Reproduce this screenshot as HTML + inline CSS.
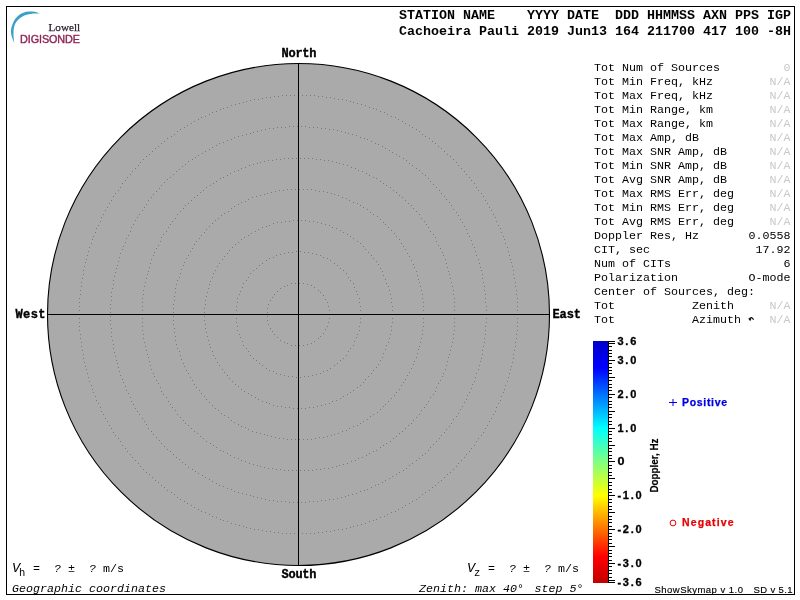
<!DOCTYPE html>
<html><head><meta charset="utf-8"><style>
html,body{margin:0;padding:0;background:#fff;width:800px;height:600px;overflow:hidden}
svg{display:block;will-change:transform}
.m{font-family:"Liberation Mono",monospace}
.s{font-family:"Liberation Sans",sans-serif}
</style></head><body>
<svg width="800" height="600" viewBox="0 0 800 600">
<rect x="6.5" y="6.5" width="788" height="588" fill="#fff" stroke="#000" stroke-width="1"/>

<circle cx="298.5" cy="314.5" r="251" fill="#aaaaaa" stroke="#000" stroke-width="1.1"/>
<path d="M329 314h1v1h-1zM329 318h1v1h-1zM328 322h1v1h-1zM327 326h1v1h-1zM325 329h1v1h-1zM323 333h1v1h-1zM320 336h1v1h-1zM318 338h1v1h-1zM314 341h1v1h-1zM311 343h1v1h-1zM307 344h1v1h-1zM303 345h1v1h-1zM299 345h1v1h-1zM295 345h1v1h-1zM291 345h1v1h-1zM287 343h1v1h-1zM284 342h1v1h-1zM280 340h1v1h-1zM277 337h1v1h-1zM274 334h1v1h-1zM272 331h1v1h-1zM270 328h1v1h-1zM268 324h1v1h-1zM267 320h1v1h-1zM267 316h1v1h-1zM267 312h1v1h-1zM267 308h1v1h-1zM268 304h1v1h-1zM270 300h1v1h-1zM272 297h1v1h-1zM274 294h1v1h-1zM277 291h1v1h-1zM280 288h1v1h-1zM284 286h1v1h-1zM287 285h1v1h-1zM291 283h1v1h-1zM295 283h1v1h-1zM299 283h1v1h-1zM303 283h1v1h-1zM307 284h1v1h-1zM311 285h1v1h-1zM314 287h1v1h-1zM318 290h1v1h-1zM320 292h1v1h-1zM323 295h1v1h-1zM325 299h1v1h-1zM327 302h1v1h-1zM328 306h1v1h-1zM329 310h1v1h-1zM361 314h1v1h-1zM360 318h1v1h-1zM360 322h1v1h-1zM359 326h1v1h-1zM359 330h1v1h-1zM357 334h1v1h-1zM356 337h1v1h-1zM354 341h1v1h-1zM353 345h1v1h-1zM350 348h1v1h-1zM348 351h1v1h-1zM346 355h1v1h-1zM343 358h1v1h-1zM340 360h1v1h-1zM337 363h1v1h-1zM334 365h1v1h-1zM330 368h1v1h-1zM327 370h1v1h-1zM323 371h1v1h-1zM320 373h1v1h-1zM316 374h1v1h-1zM312 375h1v1h-1zM308 376h1v1h-1zM304 376h1v1h-1zM300 377h1v1h-1zM296 377h1v1h-1zM292 376h1v1h-1zM288 376h1v1h-1zM284 375h1v1h-1zM280 374h1v1h-1zM276 373h1v1h-1zM273 371h1v1h-1zM269 370h1v1h-1zM266 368h1v1h-1zM262 365h1v1h-1zM259 363h1v1h-1zM256 360h1v1h-1zM253 358h1v1h-1zM250 355h1v1h-1zM248 351h1v1h-1zM246 348h1v1h-1zM243 345h1v1h-1zM242 341h1v1h-1zM240 337h1v1h-1zM239 334h1v1h-1zM237 330h1v1h-1zM237 326h1v1h-1zM236 322h1v1h-1zM236 318h1v1h-1zM235 314h1v1h-1zM236 310h1v1h-1zM236 306h1v1h-1zM237 302h1v1h-1zM237 298h1v1h-1zM239 294h1v1h-1zM240 291h1v1h-1zM242 287h1v1h-1zM243 283h1v1h-1zM246 280h1v1h-1zM248 277h1v1h-1zM250 273h1v1h-1zM253 270h1v1h-1zM256 268h1v1h-1zM259 265h1v1h-1zM262 263h1v1h-1zM266 260h1v1h-1zM269 258h1v1h-1zM273 257h1v1h-1zM276 255h1v1h-1zM280 254h1v1h-1zM284 253h1v1h-1zM288 252h1v1h-1zM292 252h1v1h-1zM296 251h1v1h-1zM300 251h1v1h-1zM304 252h1v1h-1zM308 252h1v1h-1zM312 253h1v1h-1zM316 254h1v1h-1zM320 255h1v1h-1zM323 257h1v1h-1zM327 258h1v1h-1zM330 260h1v1h-1zM334 263h1v1h-1zM337 265h1v1h-1zM340 268h1v1h-1zM343 270h1v1h-1zM346 273h1v1h-1zM348 277h1v1h-1zM350 280h1v1h-1zM353 283h1v1h-1zM354 287h1v1h-1zM356 291h1v1h-1zM357 294h1v1h-1zM359 298h1v1h-1zM359 302h1v1h-1zM360 306h1v1h-1zM360 310h1v1h-1zM392 314h1v1h-1zM392 318h1v1h-1zM392 322h1v1h-1zM391 326h1v1h-1zM391 330h1v1h-1zM390 334h1v1h-1zM389 338h1v1h-1zM388 342h1v1h-1zM386 345h1v1h-1zM385 349h1v1h-1zM383 353h1v1h-1zM382 357h1v1h-1zM380 360h1v1h-1zM378 364h1v1h-1zM376 367h1v1h-1zM373 370h1v1h-1zM371 373h1v1h-1zM368 376h1v1h-1zM365 379h1v1h-1zM363 382h1v1h-1zM360 385h1v1h-1zM357 387h1v1h-1zM353 390h1v1h-1zM350 392h1v1h-1zM347 394h1v1h-1zM343 396h1v1h-1zM340 398h1v1h-1zM336 400h1v1h-1zM332 401h1v1h-1zM329 403h1v1h-1zM325 404h1v1h-1zM321 405h1v1h-1zM317 406h1v1h-1zM313 407h1v1h-1zM309 407h1v1h-1zM305 408h1v1h-1zM301 408h1v1h-1zM297 408h1v1h-1zM293 408h1v1h-1zM289 407h1v1h-1zM285 407h1v1h-1zM281 406h1v1h-1zM277 406h1v1h-1zM273 405h1v1h-1zM269 403h1v1h-1zM266 402h1v1h-1zM262 401h1v1h-1zM258 399h1v1h-1zM255 397h1v1h-1zM251 395h1v1h-1zM248 393h1v1h-1zM244 391h1v1h-1zM241 389h1v1h-1zM238 386h1v1h-1zM235 384h1v1h-1zM232 381h1v1h-1zM229 378h1v1h-1zM227 375h1v1h-1zM224 372h1v1h-1zM222 369h1v1h-1zM219 365h1v1h-1zM217 362h1v1h-1zM215 358h1v1h-1zM213 355h1v1h-1zM212 351h1v1h-1zM210 347h1v1h-1zM209 344h1v1h-1zM208 340h1v1h-1zM207 336h1v1h-1zM206 332h1v1h-1zM205 328h1v1h-1zM205 324h1v1h-1zM204 320h1v1h-1zM204 316h1v1h-1zM204 312h1v1h-1zM204 308h1v1h-1zM205 304h1v1h-1zM205 300h1v1h-1zM206 296h1v1h-1zM207 292h1v1h-1zM208 288h1v1h-1zM209 284h1v1h-1zM210 281h1v1h-1zM212 277h1v1h-1zM213 273h1v1h-1zM215 270h1v1h-1zM217 266h1v1h-1zM219 263h1v1h-1zM222 259h1v1h-1zM224 256h1v1h-1zM227 253h1v1h-1zM229 250h1v1h-1zM232 247h1v1h-1zM235 244h1v1h-1zM238 242h1v1h-1zM241 239h1v1h-1zM244 237h1v1h-1zM248 235h1v1h-1zM251 233h1v1h-1zM255 231h1v1h-1zM258 229h1v1h-1zM262 227h1v1h-1zM266 226h1v1h-1zM269 225h1v1h-1zM273 223h1v1h-1zM277 222h1v1h-1zM281 222h1v1h-1zM285 221h1v1h-1zM289 221h1v1h-1zM293 220h1v1h-1zM297 220h1v1h-1zM301 220h1v1h-1zM305 220h1v1h-1zM309 221h1v1h-1zM313 221h1v1h-1zM317 222h1v1h-1zM321 223h1v1h-1zM325 224h1v1h-1zM329 225h1v1h-1zM332 227h1v1h-1zM336 228h1v1h-1zM340 230h1v1h-1zM343 232h1v1h-1zM347 234h1v1h-1zM350 236h1v1h-1zM353 238h1v1h-1zM357 241h1v1h-1zM360 243h1v1h-1zM363 246h1v1h-1zM365 249h1v1h-1zM368 252h1v1h-1zM371 255h1v1h-1zM373 258h1v1h-1zM376 261h1v1h-1zM378 264h1v1h-1zM380 268h1v1h-1zM382 271h1v1h-1zM383 275h1v1h-1zM385 279h1v1h-1zM386 283h1v1h-1zM388 286h1v1h-1zM389 290h1v1h-1zM390 294h1v1h-1zM391 298h1v1h-1zM391 302h1v1h-1zM392 306h1v1h-1zM392 310h1v1h-1zM423 314h1v1h-1zM423 318h1v1h-1zM423 322h1v1h-1zM423 326h1v1h-1zM422 330h1v1h-1zM422 334h1v1h-1zM421 338h1v1h-1zM420 342h1v1h-1zM419 346h1v1h-1zM418 349h1v1h-1zM417 353h1v1h-1zM416 357h1v1h-1zM414 361h1v1h-1zM413 364h1v1h-1zM411 368h1v1h-1zM409 372h1v1h-1zM407 375h1v1h-1zM405 379h1v1h-1zM403 382h1v1h-1zM401 385h1v1h-1zM399 389h1v1h-1zM396 392h1v1h-1zM394 395h1v1h-1zM391 398h1v1h-1zM388 401h1v1h-1zM385 404h1v1h-1zM383 406h1v1h-1zM380 409h1v1h-1zM377 412h1v1h-1zM373 414h1v1h-1zM370 416h1v1h-1zM367 419h1v1h-1zM363 421h1v1h-1zM360 423h1v1h-1zM357 425h1v1h-1zM353 426h1v1h-1zM349 428h1v1h-1zM346 430h1v1h-1zM342 431h1v1h-1zM338 433h1v1h-1zM334 434h1v1h-1zM331 435h1v1h-1zM327 436h1v1h-1zM323 437h1v1h-1zM319 437h1v1h-1zM315 438h1v1h-1zM311 439h1v1h-1zM307 439h1v1h-1zM303 439h1v1h-1zM299 439h1v1h-1zM295 439h1v1h-1zM291 439h1v1h-1zM287 439h1v1h-1zM283 438h1v1h-1zM279 438h1v1h-1zM275 437h1v1h-1zM271 436h1v1h-1zM267 435h1v1h-1zM264 434h1v1h-1zM260 433h1v1h-1zM256 432h1v1h-1zM252 431h1v1h-1zM248 429h1v1h-1zM245 427h1v1h-1zM241 426h1v1h-1zM238 424h1v1h-1zM234 422h1v1h-1zM231 420h1v1h-1zM228 417h1v1h-1zM224 415h1v1h-1zM221 413h1v1h-1zM218 410h1v1h-1zM215 408h1v1h-1zM212 405h1v1h-1zM209 402h1v1h-1zM206 399h1v1h-1zM204 396h1v1h-1zM201 393h1v1h-1zM199 390h1v1h-1zM196 387h1v1h-1zM194 384h1v1h-1zM192 380h1v1h-1zM190 377h1v1h-1zM188 373h1v1h-1zM186 370h1v1h-1zM184 366h1v1h-1zM183 363h1v1h-1zM181 359h1v1h-1zM180 355h1v1h-1zM179 351h1v1h-1zM177 348h1v1h-1zM176 344h1v1h-1zM175 340h1v1h-1zM175 336h1v1h-1zM174 332h1v1h-1zM174 328h1v1h-1zM173 324h1v1h-1zM173 320h1v1h-1zM173 316h1v1h-1zM173 312h1v1h-1zM173 308h1v1h-1zM173 304h1v1h-1zM174 300h1v1h-1zM174 296h1v1h-1zM175 292h1v1h-1zM175 288h1v1h-1zM176 284h1v1h-1zM177 280h1v1h-1zM179 277h1v1h-1zM180 273h1v1h-1zM181 269h1v1h-1zM183 265h1v1h-1zM184 262h1v1h-1zM186 258h1v1h-1zM188 255h1v1h-1zM190 251h1v1h-1zM192 248h1v1h-1zM194 244h1v1h-1zM196 241h1v1h-1zM199 238h1v1h-1zM201 235h1v1h-1zM204 232h1v1h-1zM206 229h1v1h-1zM209 226h1v1h-1zM212 223h1v1h-1zM215 220h1v1h-1zM218 218h1v1h-1zM221 215h1v1h-1zM224 213h1v1h-1zM228 211h1v1h-1zM231 208h1v1h-1zM234 206h1v1h-1zM238 204h1v1h-1zM241 202h1v1h-1zM245 201h1v1h-1zM248 199h1v1h-1zM252 197h1v1h-1zM256 196h1v1h-1zM260 195h1v1h-1zM264 194h1v1h-1zM267 193h1v1h-1zM271 192h1v1h-1zM275 191h1v1h-1zM279 190h1v1h-1zM283 190h1v1h-1zM287 189h1v1h-1zM291 189h1v1h-1zM295 189h1v1h-1zM299 189h1v1h-1zM303 189h1v1h-1zM307 189h1v1h-1zM311 189h1v1h-1zM315 190h1v1h-1zM319 191h1v1h-1zM323 191h1v1h-1zM327 192h1v1h-1zM331 193h1v1h-1zM334 194h1v1h-1zM338 195h1v1h-1zM342 197h1v1h-1zM346 198h1v1h-1zM349 200h1v1h-1zM353 202h1v1h-1zM357 203h1v1h-1zM360 205h1v1h-1zM363 207h1v1h-1zM367 209h1v1h-1zM370 212h1v1h-1zM373 214h1v1h-1zM377 216h1v1h-1zM380 219h1v1h-1zM383 222h1v1h-1zM385 224h1v1h-1zM388 227h1v1h-1zM391 230h1v1h-1zM394 233h1v1h-1zM396 236h1v1h-1zM399 239h1v1h-1zM401 243h1v1h-1zM403 246h1v1h-1zM405 249h1v1h-1zM407 253h1v1h-1zM409 256h1v1h-1zM411 260h1v1h-1zM413 264h1v1h-1zM414 267h1v1h-1zM416 271h1v1h-1zM417 275h1v1h-1zM418 279h1v1h-1zM419 282h1v1h-1zM420 286h1v1h-1zM421 290h1v1h-1zM422 294h1v1h-1zM422 298h1v1h-1zM423 302h1v1h-1zM423 306h1v1h-1zM423 310h1v1h-1zM455 314h1v1h-1zM454 318h1v1h-1zM454 322h1v1h-1zM454 326h1v1h-1zM454 330h1v1h-1zM453 334h1v1h-1zM453 338h1v1h-1zM452 342h1v1h-1zM451 346h1v1h-1zM450 350h1v1h-1zM449 354h1v1h-1zM448 357h1v1h-1zM447 361h1v1h-1zM446 365h1v1h-1zM445 369h1v1h-1zM443 373h1v1h-1zM442 376h1v1h-1zM440 380h1v1h-1zM438 383h1v1h-1zM436 387h1v1h-1zM435 391h1v1h-1zM433 394h1v1h-1zM430 397h1v1h-1zM428 401h1v1h-1zM426 404h1v1h-1zM424 407h1v1h-1zM421 410h1v1h-1zM419 414h1v1h-1zM416 417h1v1h-1zM413 420h1v1h-1zM411 423h1v1h-1zM408 425h1v1h-1zM405 428h1v1h-1zM402 431h1v1h-1zM399 433h1v1h-1zM396 436h1v1h-1zM393 438h1v1h-1zM390 441h1v1h-1zM386 443h1v1h-1zM383 445h1v1h-1zM380 447h1v1h-1zM376 450h1v1h-1zM373 451h1v1h-1zM369 453h1v1h-1zM366 455h1v1h-1zM362 457h1v1h-1zM358 458h1v1h-1zM355 460h1v1h-1zM351 461h1v1h-1zM347 463h1v1h-1zM343 464h1v1h-1zM339 465h1v1h-1zM336 466h1v1h-1zM332 467h1v1h-1zM328 468h1v1h-1zM324 468h1v1h-1zM320 469h1v1h-1zM316 469h1v1h-1zM312 470h1v1h-1zM308 470h1v1h-1zM304 470h1v1h-1zM300 470h1v1h-1zM296 470h1v1h-1zM292 470h1v1h-1zM288 470h1v1h-1zM284 470h1v1h-1zM280 469h1v1h-1zM276 469h1v1h-1zM272 468h1v1h-1zM268 468h1v1h-1zM264 467h1v1h-1zM260 466h1v1h-1zM257 465h1v1h-1zM253 464h1v1h-1zM249 463h1v1h-1zM245 461h1v1h-1zM241 460h1v1h-1zM238 458h1v1h-1zM234 457h1v1h-1zM230 455h1v1h-1zM227 453h1v1h-1zM223 451h1v1h-1zM220 450h1v1h-1zM216 447h1v1h-1zM213 445h1v1h-1zM210 443h1v1h-1zM206 441h1v1h-1zM203 438h1v1h-1zM200 436h1v1h-1zM197 433h1v1h-1zM194 431h1v1h-1zM191 428h1v1h-1zM188 425h1v1h-1zM185 423h1v1h-1zM183 420h1v1h-1zM180 417h1v1h-1zM177 414h1v1h-1zM175 410h1v1h-1zM172 407h1v1h-1zM170 404h1v1h-1zM168 401h1v1h-1zM166 397h1v1h-1zM163 394h1v1h-1zM161 391h1v1h-1zM160 387h1v1h-1zM158 383h1v1h-1zM156 380h1v1h-1zM154 376h1v1h-1zM153 373h1v1h-1zM151 369h1v1h-1zM150 365h1v1h-1zM149 361h1v1h-1zM148 357h1v1h-1zM147 354h1v1h-1zM146 350h1v1h-1zM145 346h1v1h-1zM144 342h1v1h-1zM143 338h1v1h-1zM143 334h1v1h-1zM142 330h1v1h-1zM142 326h1v1h-1zM142 322h1v1h-1zM142 318h1v1h-1zM142 314h1v1h-1zM142 310h1v1h-1zM142 306h1v1h-1zM142 302h1v1h-1zM142 298h1v1h-1zM143 294h1v1h-1zM143 290h1v1h-1zM144 286h1v1h-1zM145 282h1v1h-1zM146 278h1v1h-1zM147 274h1v1h-1zM148 271h1v1h-1zM149 267h1v1h-1zM150 263h1v1h-1zM151 259h1v1h-1zM153 255h1v1h-1zM154 252h1v1h-1zM156 248h1v1h-1zM158 245h1v1h-1zM160 241h1v1h-1zM161 237h1v1h-1zM163 234h1v1h-1zM166 231h1v1h-1zM168 227h1v1h-1zM170 224h1v1h-1zM172 221h1v1h-1zM175 218h1v1h-1zM177 214h1v1h-1zM180 211h1v1h-1zM183 208h1v1h-1zM185 205h1v1h-1zM188 203h1v1h-1zM191 200h1v1h-1zM194 197h1v1h-1zM197 195h1v1h-1zM200 192h1v1h-1zM203 190h1v1h-1zM206 187h1v1h-1zM210 185h1v1h-1zM213 183h1v1h-1zM216 181h1v1h-1zM220 178h1v1h-1zM223 177h1v1h-1zM227 175h1v1h-1zM230 173h1v1h-1zM234 171h1v1h-1zM238 170h1v1h-1zM241 168h1v1h-1zM245 167h1v1h-1zM249 165h1v1h-1zM253 164h1v1h-1zM257 163h1v1h-1zM260 162h1v1h-1zM264 161h1v1h-1zM268 160h1v1h-1zM272 160h1v1h-1zM276 159h1v1h-1zM280 159h1v1h-1zM284 158h1v1h-1zM288 158h1v1h-1zM292 158h1v1h-1zM296 158h1v1h-1zM300 158h1v1h-1zM304 158h1v1h-1zM308 158h1v1h-1zM312 158h1v1h-1zM316 159h1v1h-1zM320 159h1v1h-1zM324 160h1v1h-1zM328 160h1v1h-1zM332 161h1v1h-1zM336 162h1v1h-1zM339 163h1v1h-1zM343 164h1v1h-1zM347 165h1v1h-1zM351 167h1v1h-1zM355 168h1v1h-1zM358 170h1v1h-1zM362 171h1v1h-1zM366 173h1v1h-1zM369 175h1v1h-1zM373 177h1v1h-1zM376 178h1v1h-1zM380 181h1v1h-1zM383 183h1v1h-1zM386 185h1v1h-1zM390 187h1v1h-1zM393 190h1v1h-1zM396 192h1v1h-1zM399 195h1v1h-1zM402 197h1v1h-1zM405 200h1v1h-1zM408 203h1v1h-1zM411 205h1v1h-1zM413 208h1v1h-1zM416 211h1v1h-1zM419 214h1v1h-1zM421 218h1v1h-1zM424 221h1v1h-1zM426 224h1v1h-1zM428 227h1v1h-1zM430 231h1v1h-1zM433 234h1v1h-1zM435 237h1v1h-1zM436 241h1v1h-1zM438 245h1v1h-1zM440 248h1v1h-1zM442 252h1v1h-1zM443 255h1v1h-1zM445 259h1v1h-1zM446 263h1v1h-1zM447 267h1v1h-1zM448 271h1v1h-1zM449 274h1v1h-1zM450 278h1v1h-1zM451 282h1v1h-1zM452 286h1v1h-1zM453 290h1v1h-1zM453 294h1v1h-1zM454 298h1v1h-1zM454 302h1v1h-1zM454 306h1v1h-1zM454 310h1v1h-1zM486 314h1v1h-1zM486 318h1v1h-1zM486 322h1v1h-1zM485 326h1v1h-1zM485 330h1v1h-1zM485 334h1v1h-1zM484 338h1v1h-1zM484 342h1v1h-1zM483 346h1v1h-1zM482 350h1v1h-1zM482 354h1v1h-1zM481 358h1v1h-1zM480 361h1v1h-1zM479 365h1v1h-1zM478 369h1v1h-1zM476 373h1v1h-1zM475 377h1v1h-1zM474 381h1v1h-1zM472 384h1v1h-1zM471 388h1v1h-1zM469 392h1v1h-1zM467 395h1v1h-1zM466 399h1v1h-1zM464 402h1v1h-1zM462 406h1v1h-1zM460 409h1v1h-1zM458 413h1v1h-1zM456 416h1v1h-1zM453 419h1v1h-1zM451 423h1v1h-1zM449 426h1v1h-1zM446 429h1v1h-1zM444 432h1v1h-1zM441 435h1v1h-1zM439 438h1v1h-1zM436 441h1v1h-1zM433 444h1v1h-1zM430 447h1v1h-1zM428 450h1v1h-1zM425 453h1v1h-1zM422 455h1v1h-1zM419 458h1v1h-1zM416 460h1v1h-1zM412 463h1v1h-1zM409 465h1v1h-1zM406 468h1v1h-1zM403 470h1v1h-1zM399 472h1v1h-1zM396 474h1v1h-1zM392 476h1v1h-1zM389 478h1v1h-1zM385 480h1v1h-1zM382 482h1v1h-1zM378 484h1v1h-1zM375 485h1v1h-1zM371 487h1v1h-1zM367 489h1v1h-1zM364 490h1v1h-1zM360 491h1v1h-1zM356 493h1v1h-1zM352 494h1v1h-1zM348 495h1v1h-1zM345 496h1v1h-1zM341 497h1v1h-1zM337 498h1v1h-1zM333 499h1v1h-1zM329 499h1v1h-1zM325 500h1v1h-1zM321 500h1v1h-1zM317 501h1v1h-1zM313 501h1v1h-1zM309 501h1v1h-1zM305 502h1v1h-1zM301 502h1v1h-1zM297 502h1v1h-1zM293 502h1v1h-1zM289 502h1v1h-1zM285 501h1v1h-1zM281 501h1v1h-1zM277 501h1v1h-1zM273 500h1v1h-1zM269 500h1v1h-1zM265 499h1v1h-1zM261 498h1v1h-1zM257 497h1v1h-1zM253 496h1v1h-1zM250 495h1v1h-1zM246 494h1v1h-1zM242 493h1v1h-1zM238 492h1v1h-1zM234 491h1v1h-1zM231 489h1v1h-1zM227 488h1v1h-1zM223 486h1v1h-1zM219 485h1v1h-1zM216 483h1v1h-1zM212 481h1v1h-1zM209 479h1v1h-1zM205 477h1v1h-1zM202 475h1v1h-1zM198 473h1v1h-1zM195 471h1v1h-1zM192 469h1v1h-1zM188 467h1v1h-1zM185 464h1v1h-1zM182 462h1v1h-1zM179 459h1v1h-1zM176 457h1v1h-1zM173 454h1v1h-1zM170 451h1v1h-1zM167 449h1v1h-1zM164 446h1v1h-1zM161 443h1v1h-1zM159 440h1v1h-1zM156 437h1v1h-1zM153 434h1v1h-1zM151 431h1v1h-1zM148 428h1v1h-1zM146 424h1v1h-1zM144 421h1v1h-1zM142 418h1v1h-1zM139 414h1v1h-1zM137 411h1v1h-1zM135 408h1v1h-1zM133 404h1v1h-1zM131 401h1v1h-1zM130 397h1v1h-1zM128 393h1v1h-1zM126 390h1v1h-1zM125 386h1v1h-1zM123 382h1v1h-1zM122 379h1v1h-1zM120 375h1v1h-1zM119 371h1v1h-1zM118 367h1v1h-1zM117 363h1v1h-1zM116 360h1v1h-1zM115 356h1v1h-1zM114 352h1v1h-1zM113 348h1v1h-1zM113 344h1v1h-1zM112 340h1v1h-1zM111 336h1v1h-1zM111 332h1v1h-1zM111 328h1v1h-1zM110 324h1v1h-1zM110 320h1v1h-1zM110 316h1v1h-1zM110 312h1v1h-1zM110 308h1v1h-1zM110 304h1v1h-1zM111 300h1v1h-1zM111 296h1v1h-1zM111 292h1v1h-1zM112 288h1v1h-1zM113 284h1v1h-1zM113 280h1v1h-1zM114 276h1v1h-1zM115 272h1v1h-1zM116 268h1v1h-1zM117 265h1v1h-1zM118 261h1v1h-1zM119 257h1v1h-1zM120 253h1v1h-1zM122 249h1v1h-1zM123 246h1v1h-1zM125 242h1v1h-1zM126 238h1v1h-1zM128 235h1v1h-1zM130 231h1v1h-1zM131 227h1v1h-1zM133 224h1v1h-1zM135 220h1v1h-1zM137 217h1v1h-1zM139 214h1v1h-1zM142 210h1v1h-1zM144 207h1v1h-1zM146 204h1v1h-1zM148 200h1v1h-1zM151 197h1v1h-1zM153 194h1v1h-1zM156 191h1v1h-1zM159 188h1v1h-1zM161 185h1v1h-1zM164 182h1v1h-1zM167 179h1v1h-1zM170 177h1v1h-1zM173 174h1v1h-1zM176 171h1v1h-1zM179 169h1v1h-1zM182 166h1v1h-1zM185 164h1v1h-1zM188 161h1v1h-1zM192 159h1v1h-1zM195 157h1v1h-1zM198 155h1v1h-1zM202 153h1v1h-1zM205 151h1v1h-1zM209 149h1v1h-1zM212 147h1v1h-1zM216 145h1v1h-1zM219 143h1v1h-1zM223 142h1v1h-1zM227 140h1v1h-1zM231 139h1v1h-1zM234 137h1v1h-1zM238 136h1v1h-1zM242 135h1v1h-1zM246 134h1v1h-1zM250 133h1v1h-1zM253 132h1v1h-1zM257 131h1v1h-1zM261 130h1v1h-1zM265 129h1v1h-1zM269 128h1v1h-1zM273 128h1v1h-1zM277 127h1v1h-1zM281 127h1v1h-1zM285 127h1v1h-1zM289 126h1v1h-1zM293 126h1v1h-1zM297 126h1v1h-1zM301 126h1v1h-1zM305 126h1v1h-1zM309 127h1v1h-1zM313 127h1v1h-1zM317 127h1v1h-1zM321 128h1v1h-1zM325 128h1v1h-1zM329 129h1v1h-1zM333 129h1v1h-1zM337 130h1v1h-1zM341 131h1v1h-1zM345 132h1v1h-1zM348 133h1v1h-1zM352 134h1v1h-1zM356 135h1v1h-1zM360 137h1v1h-1zM364 138h1v1h-1zM367 139h1v1h-1zM371 141h1v1h-1zM375 143h1v1h-1zM378 144h1v1h-1zM382 146h1v1h-1zM385 148h1v1h-1zM389 150h1v1h-1zM392 152h1v1h-1zM396 154h1v1h-1zM399 156h1v1h-1zM403 158h1v1h-1zM406 160h1v1h-1zM409 163h1v1h-1zM412 165h1v1h-1zM416 168h1v1h-1zM419 170h1v1h-1zM422 173h1v1h-1zM425 175h1v1h-1zM428 178h1v1h-1zM430 181h1v1h-1zM433 184h1v1h-1zM436 187h1v1h-1zM439 190h1v1h-1zM441 193h1v1h-1zM444 196h1v1h-1zM446 199h1v1h-1zM449 202h1v1h-1zM451 205h1v1h-1zM453 209h1v1h-1zM456 212h1v1h-1zM458 215h1v1h-1zM460 219h1v1h-1zM462 222h1v1h-1zM464 226h1v1h-1zM466 229h1v1h-1zM467 233h1v1h-1zM469 236h1v1h-1zM471 240h1v1h-1zM472 244h1v1h-1zM474 247h1v1h-1zM475 251h1v1h-1zM476 255h1v1h-1zM478 259h1v1h-1zM479 263h1v1h-1zM480 267h1v1h-1zM481 270h1v1h-1zM482 274h1v1h-1zM482 278h1v1h-1zM483 282h1v1h-1zM484 286h1v1h-1zM484 290h1v1h-1zM485 294h1v1h-1zM485 298h1v1h-1zM485 302h1v1h-1zM486 306h1v1h-1zM486 310h1v1h-1zM517 314h1v1h-1zM517 318h1v1h-1zM517 322h1v1h-1zM517 326h1v1h-1zM517 330h1v1h-1zM516 334h1v1h-1zM516 338h1v1h-1zM515 342h1v1h-1zM515 346h1v1h-1zM514 350h1v1h-1zM513 354h1v1h-1zM513 358h1v1h-1zM512 362h1v1h-1zM511 366h1v1h-1zM510 369h1v1h-1zM509 373h1v1h-1zM508 377h1v1h-1zM507 381h1v1h-1zM505 385h1v1h-1zM504 389h1v1h-1zM503 392h1v1h-1zM501 396h1v1h-1zM500 400h1v1h-1zM498 403h1v1h-1zM496 407h1v1h-1zM495 411h1v1h-1zM493 414h1v1h-1zM491 418h1v1h-1zM489 421h1v1h-1zM487 425h1v1h-1zM485 428h1v1h-1zM483 432h1v1h-1zM481 435h1v1h-1zM478 438h1v1h-1zM476 441h1v1h-1zM474 445h1v1h-1zM471 448h1v1h-1zM469 451h1v1h-1zM466 454h1v1h-1zM464 457h1v1h-1zM461 460h1v1h-1zM458 463h1v1h-1zM456 466h1v1h-1zM453 469h1v1h-1zM450 472h1v1h-1zM447 474h1v1h-1zM444 477h1v1h-1zM441 480h1v1h-1zM438 482h1v1h-1zM435 485h1v1h-1zM432 487h1v1h-1zM429 490h1v1h-1zM425 492h1v1h-1zM422 494h1v1h-1zM419 497h1v1h-1zM416 499h1v1h-1zM412 501h1v1h-1zM409 503h1v1h-1zM405 505h1v1h-1zM402 507h1v1h-1zM398 509h1v1h-1zM395 511h1v1h-1zM391 512h1v1h-1zM387 514h1v1h-1zM384 516h1v1h-1zM380 517h1v1h-1zM376 519h1v1h-1zM373 520h1v1h-1zM369 521h1v1h-1zM365 523h1v1h-1zM361 524h1v1h-1zM357 525h1v1h-1zM353 526h1v1h-1zM350 527h1v1h-1zM346 528h1v1h-1zM342 529h1v1h-1zM338 529h1v1h-1zM334 530h1v1h-1zM330 531h1v1h-1zM326 531h1v1h-1zM322 532h1v1h-1zM318 532h1v1h-1zM314 533h1v1h-1zM310 533h1v1h-1zM306 533h1v1h-1zM302 533h1v1h-1zM298 533h1v1h-1zM294 533h1v1h-1zM290 533h1v1h-1zM286 533h1v1h-1zM282 533h1v1h-1zM278 532h1v1h-1zM274 532h1v1h-1zM270 531h1v1h-1zM266 531h1v1h-1zM262 530h1v1h-1zM258 529h1v1h-1zM254 529h1v1h-1zM250 528h1v1h-1zM246 527h1v1h-1zM243 526h1v1h-1zM239 525h1v1h-1zM235 524h1v1h-1zM231 523h1v1h-1zM227 521h1v1h-1zM223 520h1v1h-1zM220 519h1v1h-1zM216 517h1v1h-1zM212 516h1v1h-1zM209 514h1v1h-1zM205 512h1v1h-1zM201 511h1v1h-1zM198 509h1v1h-1zM194 507h1v1h-1zM191 505h1v1h-1zM187 503h1v1h-1zM184 501h1v1h-1zM180 499h1v1h-1zM177 497h1v1h-1zM174 494h1v1h-1zM171 492h1v1h-1zM167 490h1v1h-1zM164 487h1v1h-1zM161 485h1v1h-1zM158 482h1v1h-1zM155 480h1v1h-1zM152 477h1v1h-1zM149 474h1v1h-1zM146 472h1v1h-1zM143 469h1v1h-1zM140 466h1v1h-1zM138 463h1v1h-1zM135 460h1v1h-1zM132 457h1v1h-1zM130 454h1v1h-1zM127 451h1v1h-1zM125 448h1v1h-1zM122 445h1v1h-1zM120 441h1v1h-1zM118 438h1v1h-1zM115 435h1v1h-1zM113 432h1v1h-1zM111 428h1v1h-1zM109 425h1v1h-1zM107 421h1v1h-1zM105 418h1v1h-1zM103 414h1v1h-1zM101 411h1v1h-1zM100 407h1v1h-1zM98 403h1v1h-1zM96 400h1v1h-1zM95 396h1v1h-1zM93 392h1v1h-1zM92 389h1v1h-1zM91 385h1v1h-1zM89 381h1v1h-1zM88 377h1v1h-1zM87 373h1v1h-1zM86 369h1v1h-1zM85 366h1v1h-1zM84 362h1v1h-1zM83 358h1v1h-1zM83 354h1v1h-1zM82 350h1v1h-1zM81 346h1v1h-1zM81 342h1v1h-1zM80 338h1v1h-1zM80 334h1v1h-1zM79 330h1v1h-1zM79 326h1v1h-1zM79 322h1v1h-1zM79 318h1v1h-1zM79 314h1v1h-1zM79 310h1v1h-1zM79 306h1v1h-1zM79 302h1v1h-1zM79 298h1v1h-1zM80 294h1v1h-1zM80 290h1v1h-1zM81 286h1v1h-1zM81 282h1v1h-1zM82 278h1v1h-1zM83 274h1v1h-1zM83 270h1v1h-1zM84 266h1v1h-1zM85 262h1v1h-1zM86 259h1v1h-1zM87 255h1v1h-1zM88 251h1v1h-1zM89 247h1v1h-1zM91 243h1v1h-1zM92 239h1v1h-1zM93 236h1v1h-1zM95 232h1v1h-1zM96 228h1v1h-1zM98 225h1v1h-1zM100 221h1v1h-1zM101 217h1v1h-1zM103 214h1v1h-1zM105 210h1v1h-1zM107 207h1v1h-1zM109 203h1v1h-1zM111 200h1v1h-1zM113 196h1v1h-1zM115 193h1v1h-1zM118 190h1v1h-1zM120 187h1v1h-1zM122 183h1v1h-1zM125 180h1v1h-1zM127 177h1v1h-1zM130 174h1v1h-1zM132 171h1v1h-1zM135 168h1v1h-1zM138 165h1v1h-1zM140 162h1v1h-1zM143 159h1v1h-1zM146 156h1v1h-1zM149 154h1v1h-1zM152 151h1v1h-1zM155 148h1v1h-1zM158 146h1v1h-1zM161 143h1v1h-1zM164 141h1v1h-1zM167 138h1v1h-1zM171 136h1v1h-1zM174 134h1v1h-1zM177 131h1v1h-1zM180 129h1v1h-1zM184 127h1v1h-1zM187 125h1v1h-1zM191 123h1v1h-1zM194 121h1v1h-1zM198 119h1v1h-1zM201 117h1v1h-1zM205 116h1v1h-1zM209 114h1v1h-1zM212 112h1v1h-1zM216 111h1v1h-1zM220 109h1v1h-1zM223 108h1v1h-1zM227 107h1v1h-1zM231 105h1v1h-1zM235 104h1v1h-1zM239 103h1v1h-1zM243 102h1v1h-1zM246 101h1v1h-1zM250 100h1v1h-1zM254 99h1v1h-1zM258 99h1v1h-1zM262 98h1v1h-1zM266 97h1v1h-1zM270 97h1v1h-1zM274 96h1v1h-1zM278 96h1v1h-1zM282 95h1v1h-1zM286 95h1v1h-1zM290 95h1v1h-1zM294 95h1v1h-1zM298 95h1v1h-1zM302 95h1v1h-1zM306 95h1v1h-1zM310 95h1v1h-1zM314 95h1v1h-1zM318 96h1v1h-1zM322 96h1v1h-1zM326 97h1v1h-1zM330 97h1v1h-1zM334 98h1v1h-1zM338 99h1v1h-1zM342 99h1v1h-1zM346 100h1v1h-1zM350 101h1v1h-1zM353 102h1v1h-1zM357 103h1v1h-1zM361 104h1v1h-1zM365 105h1v1h-1zM369 107h1v1h-1zM373 108h1v1h-1zM376 109h1v1h-1zM380 111h1v1h-1zM384 112h1v1h-1zM387 114h1v1h-1zM391 116h1v1h-1zM395 117h1v1h-1zM398 119h1v1h-1zM402 121h1v1h-1zM405 123h1v1h-1zM409 125h1v1h-1zM412 127h1v1h-1zM416 129h1v1h-1zM419 131h1v1h-1zM422 134h1v1h-1zM425 136h1v1h-1zM429 138h1v1h-1zM432 141h1v1h-1zM435 143h1v1h-1zM438 146h1v1h-1zM441 148h1v1h-1zM444 151h1v1h-1zM447 154h1v1h-1zM450 156h1v1h-1zM453 159h1v1h-1zM456 162h1v1h-1zM458 165h1v1h-1zM461 168h1v1h-1zM464 171h1v1h-1zM466 174h1v1h-1zM469 177h1v1h-1zM471 180h1v1h-1zM474 183h1v1h-1zM476 187h1v1h-1zM478 190h1v1h-1zM481 193h1v1h-1zM483 196h1v1h-1zM485 200h1v1h-1zM487 203h1v1h-1zM489 207h1v1h-1zM491 210h1v1h-1zM493 214h1v1h-1zM495 217h1v1h-1zM496 221h1v1h-1zM498 225h1v1h-1zM500 228h1v1h-1zM501 232h1v1h-1zM503 236h1v1h-1zM504 239h1v1h-1zM505 243h1v1h-1zM507 247h1v1h-1zM508 251h1v1h-1zM509 255h1v1h-1zM510 259h1v1h-1zM511 262h1v1h-1zM512 266h1v1h-1zM513 270h1v1h-1zM513 274h1v1h-1zM514 278h1v1h-1zM515 282h1v1h-1zM515 286h1v1h-1zM516 290h1v1h-1zM516 294h1v1h-1zM517 298h1v1h-1zM517 302h1v1h-1zM517 306h1v1h-1zM517 310h1v1h-1z" fill="#787878"/>
<line x1="298.5" y1="63.5" x2="298.5" y2="565.5" stroke="#000" stroke-width="1"/>
<line x1="47.5" y1="314.5" x2="549.5" y2="314.5" stroke="#000" stroke-width="1"/>
<g class="m" font-weight="bold" font-size="12" fill="#000" stroke="#000" stroke-width="0.35">
<text x="281.5" y="57" textLength="35" lengthAdjust="spacing">North</text>
<text x="281.5" y="578" textLength="35" lengthAdjust="spacing">South</text>
<text x="15.5" y="318" textLength="30" lengthAdjust="spacing">West</text>
<text x="552.5" y="318" textLength="28.5" lengthAdjust="spacing">East</text>
</g>
<g class="m" font-weight="bold" font-size="13.33" fill="#000">
<text x="399" y="19" xml:space="preserve">STATION NAME    YYYY DATE  DDD HHMMSS AXN PPS IGP</text>
<text x="399" y="35" xml:space="preserve">Cachoeira Pauli 2019 Jun13 164 211700 417 100 -8H</text>
</g>
<g class="m" font-size="11.67" fill="#000">
<text x="594" y="71" xml:space="preserve">Tot Num of Sources</text>
<text x="790.5" y="71" text-anchor="end" fill="#c8c8c8">0</text>
<text x="594" y="85" xml:space="preserve">Tot Min Freq, kHz</text>
<text x="790.5" y="85" text-anchor="end" fill="#c8c8c8">N/A</text>
<text x="594" y="99" xml:space="preserve">Tot Max Freq, kHz</text>
<text x="790.5" y="99" text-anchor="end" fill="#c8c8c8">N/A</text>
<text x="594" y="113" xml:space="preserve">Tot Min Range, km</text>
<text x="790.5" y="113" text-anchor="end" fill="#c8c8c8">N/A</text>
<text x="594" y="127" xml:space="preserve">Tot Max Range, km</text>
<text x="790.5" y="127" text-anchor="end" fill="#c8c8c8">N/A</text>
<text x="594" y="141" xml:space="preserve">Tot Max Amp, dB</text>
<text x="790.5" y="141" text-anchor="end" fill="#c8c8c8">N/A</text>
<text x="594" y="155" xml:space="preserve">Tot Max SNR Amp, dB</text>
<text x="790.5" y="155" text-anchor="end" fill="#c8c8c8">N/A</text>
<text x="594" y="169" xml:space="preserve">Tot Min SNR Amp, dB</text>
<text x="790.5" y="169" text-anchor="end" fill="#c8c8c8">N/A</text>
<text x="594" y="183" xml:space="preserve">Tot Avg SNR Amp, dB</text>
<text x="790.5" y="183" text-anchor="end" fill="#c8c8c8">N/A</text>
<text x="594" y="197" xml:space="preserve">Tot Max RMS Err, deg</text>
<text x="790.5" y="197" text-anchor="end" fill="#c8c8c8">N/A</text>
<text x="594" y="211" xml:space="preserve">Tot Min RMS Err, deg</text>
<text x="790.5" y="211" text-anchor="end" fill="#c8c8c8">N/A</text>
<text x="594" y="225" xml:space="preserve">Tot Avg RMS Err, deg</text>
<text x="790.5" y="225" text-anchor="end" fill="#c8c8c8">N/A</text>
<text x="594" y="239" xml:space="preserve">Doppler Res, Hz</text>
<text x="790.5" y="239" text-anchor="end" fill="#000">0.0558</text>
<text x="594" y="253" xml:space="preserve">CIT, sec</text>
<text x="790.5" y="253" text-anchor="end" fill="#000">17.92</text>
<text x="594" y="267" xml:space="preserve">Num of CITs</text>
<text x="790.5" y="267" text-anchor="end" fill="#000">6</text>
<text x="594" y="281" xml:space="preserve">Polarization</text>
<text x="790.5" y="281" text-anchor="end" fill="#000">O-mode</text>
<text x="594" y="295" xml:space="preserve">Center of Sources, deg:</text>
<text x="594" y="309" xml:space="preserve">Tot           Zenith</text>
<text x="790.5" y="309" text-anchor="end" fill="#c8c8c8">N/A</text>
<text x="594" y="323" xml:space="preserve">Tot           Azimuth</text>
<text x="790.5" y="323" text-anchor="end" fill="#c8c8c8">N/A</text>
</g>
<defs><linearGradient id="jet" x1="0" y1="0" x2="0" y2="1">
<stop offset="0" stop-color="#0000c8"/>
<stop offset="0.11" stop-color="#0000ff"/>
<stop offset="0.36" stop-color="#00ffff"/>
<stop offset="0.5" stop-color="#80ff80"/>
<stop offset="0.64" stop-color="#ffff00"/>
<stop offset="0.89" stop-color="#ff0000"/>
<stop offset="1" stop-color="#c00000"/>
</linearGradient></defs>
<rect x="593" y="341" width="15" height="242" fill="url(#jet)"/>
<line x1="608.5" y1="341" x2="608.5" y2="583" stroke="#000" stroke-width="1"/>
<path d="M608 582.5H615 M608 580.5H615 M608 577.5H612 M608 573.5H612 M608 570.5H612 M608 566.5H612 M608 563.5H615 M608 560.5H612 M608 556.5H612 M608 553.5H612 M608 550.5H612 M608 546.5H615 M608 543.5H612 M608 539.5H612 M608 536.5H612 M608 533.5H612 M608 529.5H615 M608 526.5H612 M608 522.5H612 M608 519.5H612 M608 516.5H612 M608 512.5H615 M608 509.5H612 M608 506.5H612 M608 502.5H612 M608 499.5H612 M608 495.5H615 M608 492.5H612 M608 489.5H612 M608 485.5H612 M608 482.5H612 M608 478.5H615 M608 475.5H612 M608 472.5H612 M608 468.5H612 M608 465.5H612 M608 461.5H615 M608 458.5H612 M608 455.5H612 M608 451.5H612 M608 448.5H612 M608 445.5H615 M608 441.5H612 M608 438.5H612 M608 434.5H612 M608 431.5H612 M608 428.5H615 M608 424.5H612 M608 421.5H612 M608 417.5H612 M608 414.5H612 M608 411.5H615 M608 407.5H612 M608 404.5H612 M608 401.5H612 M608 397.5H612 M608 394.5H615 M608 390.5H612 M608 387.5H612 M608 384.5H612 M608 380.5H612 M608 377.5H615 M608 373.5H612 M608 370.5H612 M608 367.5H612 M608 363.5H612 M608 360.5H615 M608 356.5H612 M608 353.5H612 M608 350.5H612 M608 346.5H612 M608 343.5H615 M608 341.5H615" stroke="#000" stroke-width="1"/>
<g class="s" font-weight="bold" font-size="11" fill="#000" stroke="#000" stroke-width="0.3">
<text x="617.5" y="345.0" textLength="18.8" lengthAdjust="spacing">3.6</text>
<text x="617.5" y="364.0" textLength="18.8" lengthAdjust="spacing">3.0</text>
<text x="617.5" y="398.0" textLength="18.8" lengthAdjust="spacing">2.0</text>
<text x="617.5" y="432.0" textLength="18.8" lengthAdjust="spacing">1.0</text>
<text x="617.5" y="465.0" textLength="7" lengthAdjust="spacingAndGlyphs">0</text>
<text x="617.5" y="499.0" textLength="24" lengthAdjust="spacing">-1.0</text>
<text x="617.5" y="533.0" textLength="24" lengthAdjust="spacing">-2.0</text>
<text x="617.5" y="567.0" textLength="24" lengthAdjust="spacing">-3.0</text>
<text x="617.5" y="586.0" textLength="24" lengthAdjust="spacing">-3.6</text>
</g>
<text class="s" font-weight="bold" font-size="10" stroke="#000" stroke-width="0.2" textLength="54" lengthAdjust="spacingAndGlyphs" transform="translate(657.5 492.5) rotate(-90)">Doppler, Hz</text>
<path d="M669 402.5H677M673 399V406" stroke="#0000e6" stroke-width="1"/>
<text class="s" font-weight="bold" font-size="10.5" x="682" y="406" textLength="45" lengthAdjust="spacing" fill="#0000e6" stroke="#0000e6" stroke-width="0.25">Positive</text>
<circle cx="673" cy="523" r="2.9" fill="none" stroke="#e60000" stroke-width="1"/>
<text class="s" font-weight="bold" font-size="10.5" x="682" y="526" textLength="51.5" lengthAdjust="spacing" fill="#e60000" stroke="#e60000" stroke-width="0.25">Negative</text>
<g class="m" font-size="11.67" fill="#000">
<text x="12" y="572" font-style="italic" font-size="13.5">V</text><text x="19" y="576" font-size="10.5">h</text><text x="26" y="572" xml:space="preserve"> =  <tspan font-style="italic">?</tspan> ±  <tspan font-style="italic">?</tspan> m/s</text>
<text x="467" y="572" font-style="italic" font-size="13.5">V</text><text x="474" y="576" font-size="10.5">z</text><text x="481" y="572" xml:space="preserve"> =  <tspan font-style="italic">?</tspan> ±  <tspan font-style="italic">?</tspan> m/s</text>
<text x="12" y="592" font-style="italic" xml:space="preserve">Geographic coordinates</text>
<text x="419" y="592" font-style="italic" xml:space="preserve">Zenith: max 40°</text>
<text x="534.5" y="592" font-style="italic" xml:space="preserve">step 5°</text>
</g>
<path d="M749.3 319.2Q751.3 315.8 753.6 319.6" fill="none" stroke="#000" stroke-width="1.1"/><path d="M748.2 318.6L751.4 318.6L750.2 321.2Z" fill="#000"/>
<text class="s" font-size="9.5" x="654.5" y="593" stroke="#000" stroke-width="0.15" textLength="88.5" lengthAdjust="spacing">ShowSkymap v 1.0</text>
<text class="s" font-size="9.5" x="753.5" y="593" stroke="#000" stroke-width="0.15" textLength="39" lengthAdjust="spacing">SD v 5.1</text>
<path d="M39.05 13.2C38.31 12.95 36.29 11.98 34.60 11.70C32.91 11.42 30.70 11.36 28.90 11.50C27.10 11.64 25.38 12.00 23.80 12.55C22.22 13.10 20.77 13.79 19.40 14.80C18.03 15.81 16.67 17.23 15.60 18.60C14.53 19.97 13.72 21.38 13.00 23.00C12.28 24.62 11.63 26.78 11.30 28.30C10.97 29.82 10.95 30.83 11.00 32.10C11.05 33.37 11.28 34.63 11.60 35.90C11.92 37.17 12.45 38.57 12.90 39.70C13.35 40.83 14.07 42.20 14.30 42.70L14.3 42.7C14.18 41.78 13.73 38.97 13.60 37.20C13.47 35.43 13.42 33.80 13.50 32.10C13.58 30.40 13.70 28.58 14.10 27.00C14.50 25.42 15.18 23.87 15.90 22.60C16.62 21.33 17.37 20.37 18.40 19.40C19.43 18.43 20.73 17.56 22.10 16.80C23.47 16.04 25.13 15.33 26.60 14.85C28.07 14.37 29.46 14.11 30.90 13.90C32.34 13.69 33.89 13.63 35.25 13.60C36.61 13.57 38.42 13.68 39.05 13.70Z" fill="#3c9fc8"/>
<text class="s" font-family="Liberation Serif" font-size="11.2" x="48.5" y="30.8" fill="#2a1e2a" stroke="#2a1e2a" stroke-width="0.25" style="font-family:'Liberation Serif',serif">Lowell</text>
<text class="s" font-size="10.8" x="20" y="43.3" textLength="60" lengthAdjust="spacing" fill="#8e2556" stroke="#8e2556" stroke-width="0.4">DIGISONDE</text>
</svg></body></html>
